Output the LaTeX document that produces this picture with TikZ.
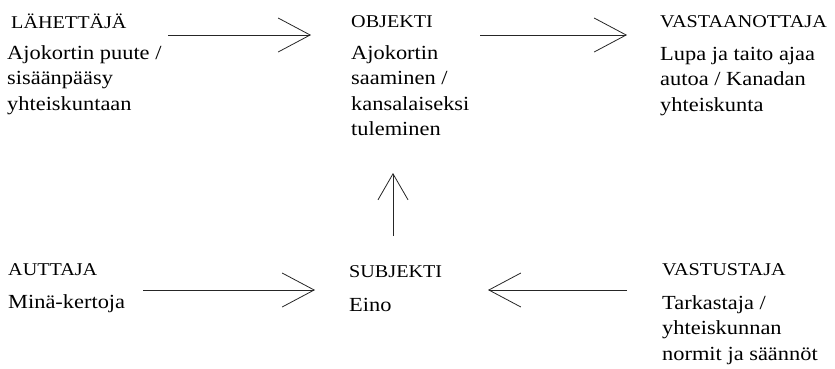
\documentclass[tikz,border=0pt]{standalone}
\usepackage{fontspec}
\setmainfont{Liberation Serif}[FakeStretch=1.12]
\usetikzlibrary{arrows.meta}
% stacked lines whose baseline is that of the first line
\newcommand{\lines}[1]{\begin{tabular}[t]{@{}l@{}}#1\end{tabular}}
\begin{document}
\begin{tikzpicture}[x=1pt,y=-1pt,
  role/.style={anchor=base west,inner sep=0pt,font=\fontsize{18}{22}\selectfont},
  desc/.style={anchor=base west,inner sep=0pt,font=\fontsize{20}{25.5}\selectfont},
  arr/.style={line width=0.8pt,draw=black!85,-{Straight Barb[length=32pt,width=34pt,line width=0.8pt]}}]
\useasboundingbox (0,0) rectangle (835,368);
% actant roles and their fillers
\node[role] (lah) at (11,28) {LÄHETTÄJÄ};
\node[desc] (lahd) at (7,59) {\lines{Ajokortin puute /\\sisäänpääsy\\yhteiskuntaan}};
\node[role] (obj) at (351,27) {OBJEKTI};
\node[desc] (objd) at (351,59) {\lines{Ajokortin\\saaminen /\\kansalaiseksi\\tuleminen}};
\node[role] (vas) at (660,27) {VASTAANOTTAJA};
\node[desc] (vasd) at (660,60) {\lines{Lupa ja taito ajaa\\autoa / Kanadan\\yhteiskunta}};
\node[role] (aut) at (8,275) {AUTTAJA};
\node[desc] (autd) at (8,308) {Minä-kertoja};
\node[role] (sub) at (349,277) {SUBJEKTI};
\node[desc] (subd) at (349,311) {Eino};
\node[role] (vst) at (662,275) {VASTUSTAJA};
\node[desc] (vstd) at (662,309) {\lines{Tarkastaja /\\yhteiskunnan\\normit ja säännöt}};
% arrow end points
\coordinate (a1s) at (168,35);  \coordinate (a1e) at (311,35);
\coordinate (a2s) at (480,35);  \coordinate (a2e) at (627,35);
\coordinate (a3s) at (143,290); \coordinate (a3e) at (315,290);
\coordinate (a4s) at (627,290); \coordinate (a4e) at (488,290);
\coordinate (a5s) at (393,236); \coordinate (a5e) at (393,173);
\draw[arr] (a1s) -- (a1e);
\draw[arr] (a2s) -- (a2e);
\draw[arr] (a3s) -- (a3e);
\draw[arr] (a4s) -- (a4e);
\draw[arr,-{Straight Barb[length=26pt,width=30pt,line width=0.8pt]}] (a5s) -- (a5e);
\end{tikzpicture}
\end{document}
